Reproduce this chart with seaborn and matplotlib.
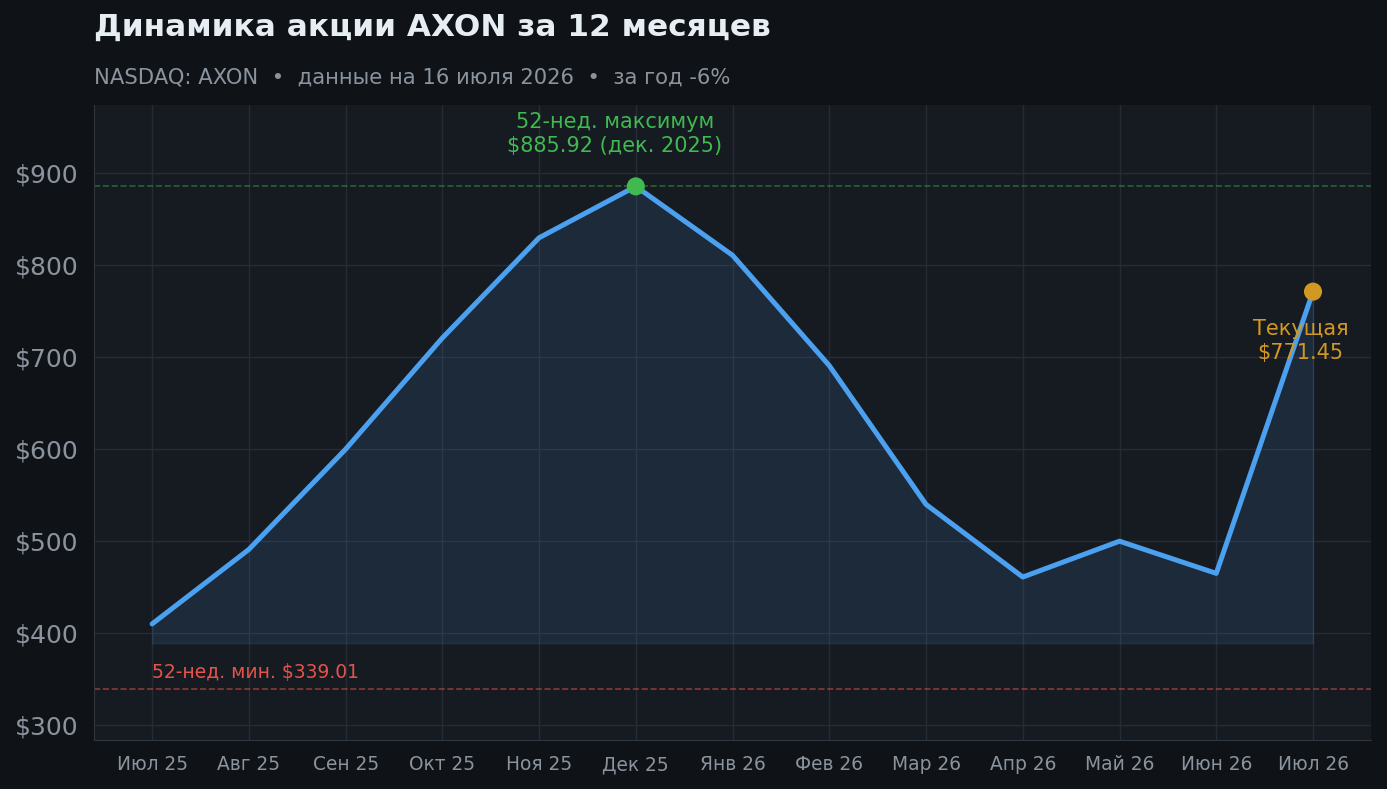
import numpy as np
import matplotlib.pyplot as plt
import pandas as pd
import seaborn as sns

months = ['Июл 25', 'Авг 25', 'Сен 25', 'Окт 25', 'Ноя 25', 'Дек 25', 'Янв 26',
          'Фев 26', 'Мар 26', 'Апр 26', 'Май 26', 'Июн 26', 'Июл 26']
price = [410, 491, 600, 721, 830, 885.92, 811, 691, 540, 461, 500, 465, 771.45]
high_52 = 885.92
low_52 = 339.01
fill_base = 389
yticks = [300, 400, 500, 600, 700, 800, 900]

bg = '#0f1318'
ax_bg = '#161a21'
blue = '#4ba0ef'
green = '#3fb950'
orange = '#d29922'
red = '#e5534b'
muted = '#8b949e'

sns.set_style('dark', {'axes.facecolor': ax_bg, 'figure.facecolor': bg,
                       'grid.color': '#262c36', 'axes.edgecolor': '#30363d'})
plt.rcParams['font.family'] = ['DejaVu Sans']

df = pd.DataFrame({'x': np.arange(len(months)), 'price': price})

fig = plt.figure(figsize=(13.87, 7.89), dpi=100)
ax = fig.add_axes([0.0678, 0.0621, 0.9207, 0.8049])

ax.fill_between(df['x'], fill_base, df['price'], color=blue, alpha=0.12, linewidth=1)
sns.lineplot(data=df, x='x', y='price', ax=ax, color=blue, linewidth=3.6)

ax.axhline(high_52, color=green, linestyle='--', linewidth=1.2, alpha=0.45)
ax.axhline(low_52, color=red, linestyle='--', linewidth=1.2, alpha=0.55)

i_max = int(np.argmax(price))
sns.scatterplot(x=[i_max], y=[price[i_max]], ax=ax, color=green, s=170, zorder=5, edgecolor='none')
sns.scatterplot(x=[len(price) - 1], y=[price[-1]], ax=ax, color=orange, s=170, zorder=5, edgecolor='none')

ax.annotate(f'52-нед. максимум\n${high_52:.2f} (дек. 2025)', xy=(i_max, price[i_max]),
            xytext=(-15, 22), textcoords='offset points', ha='center', va='bottom',
            color=green, fontsize=15, linespacing=1.25)
ax.annotate(f'Текущая\n${price[-1]:.2f}', xy=(len(price) - 1, price[-1]),
            xytext=(-9, -20), textcoords='offset points', ha='center', va='top',
            color=orange, fontsize=15, linespacing=1.25)
ax.text(0, low_52 + 8, f'52-нед. мин. ${low_52:.2f}', color=red, fontsize=13.5,
        ha='left', va='bottom')

ax.set_xlim(-0.6, 12.6)
ax.set_ylim(low_52 * 0.837, high_52 * 1.1)
ax.set_xticks(range(len(months)))
ax.set_xticklabels(months)
ax.set_yticks(yticks)
ax.set_yticklabels([f'${v}' for v in yticks])
ax.tick_params(axis='x', colors=muted, labelsize=13.4, length=5, pad=6)
ax.tick_params(axis='y', colors=muted, labelsize=18, length=5, pad=6)
ax.set_xlabel('')
ax.set_ylabel('')
ax.grid(True, linewidth=1)
for s in ['top', 'right']:
    ax.spines[s].set_visible(False)

fig.text(0.0678, 0.965, 'Динамика акции AXON за 12 месяцев', color='#e6edf3',
         fontsize=22.4, fontweight='bold', ha='left', va='center')
fig.text(0.0678, 0.902, 'NASDAQ: AXON  •  данные на 16 июля 2026  •  за год -6%',
         color=muted, fontsize=15.2, ha='left', va='center')

fig.savefig('out.png', dpi=100, facecolor=bg)
